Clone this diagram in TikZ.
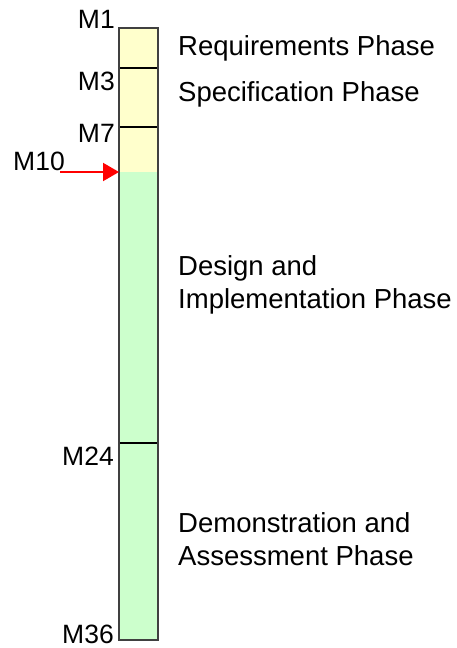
\documentclass[tikz,border=0pt]{standalone}
\usepackage{fontspec}
\setmainfont{Liberation Sans}
\usetikzlibrary{arrows.meta,calc}

\definecolor{phaseyellow}{HTML}{FFFFCC}
\definecolor{phasegreen}{HTML}{CCFFCC}
\definecolor{baredge}{HTML}{404040}

\begin{document}
\begin{tikzpicture}[x=1pt, y=-1pt,
  milestone/.style={anchor=base east, inner sep=0pt, text depth=0pt,
    font=\fontsize{26.5}{30}\selectfont},
  phase/.style={anchor=base west, inner sep=0pt, align=left,
    font=\fontsize{27.5}{33}\selectfont},
  divider/.style={black, line width=1.2pt}]
\useasboundingbox (0,0) rectangle (457,648);

% Bar: early phases in yellow, later ones in green
\fill [phaseyellow] (119,28) rectangle (158,172);
\fill [phasegreen] (119,172) rectangle (158,640);

% Milestone points on the left edge of the bar
\foreach \m/\y in {1/28, 3/68, 7/127, 10/172, 24/443, 36/640}
  \coordinate (m-\m) at (119,\y);

% Phase boundaries
\foreach \m in {3,7,24}
  \draw [divider] (m-\m) -- ++(39,0);
\draw [baredge, line width=1.5pt] (m-1) rectangle ($(m-36)+(39,0)$);

% Milestone labels
\node [milestone] (lab-1) at (115,28) {M1};
\node [milestone] (lab-3) at (115,90) {M3};
\node [milestone] (lab-7) at (115,142) {M7};
\node [milestone] (lab-10) at (65,170) {M10};
\node [milestone] (lab-24) at (114,465) {M24};
\node [milestone] (lab-36) at (114,643) {M36};

% Current month marker
\coordinate (now) at (60,172);
\draw [-{Triangle[length=16pt, width=18pt]}, red, line width=2pt] (now) -- (m-10);

% Phase names (base is the last line)
\node [phase] (req) at (178,55) {Requirements Phase};
\node [phase] (spec) at (178,101) {Specification Phase};
\node [phase] (design) at (178,308) {Design and\\Implementation Phase};
\node [phase] (demo) at (178,565) {Demonstration and\\Assessment Phase};
\end{tikzpicture}
\end{document}
